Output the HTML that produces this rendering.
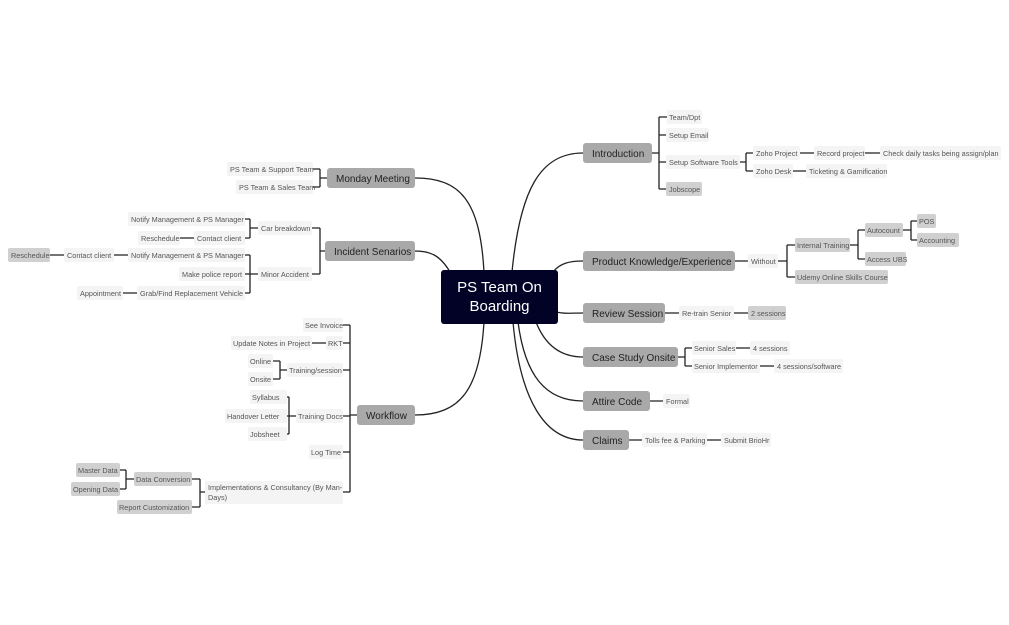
<!DOCTYPE html>
<html><head><meta charset="utf-8"><style>
html,body{margin:0;padding:0;background:#fff;}
svg{display:block;font-family:"Liberation Sans",sans-serif;}
.m rect{fill:#a9a9a9;}
.m text{font-size:10px;fill:#222;}
.s rect{fill:#f4f4f4;}
.s text{font-size:7.3px;fill:#555;}
.d rect{fill:#d0d0d0;}
.d text{font-size:7.3px;fill:#555;}
.l{fill:none;stroke:#222;stroke-width:1.3;}
</style></head><body>
<svg width="1009" height="625" viewBox="0 0 1009 625">
<!-- center curves -->
<path class="l" d="M484 272 C480 200 460 178 415 178"/>
<path class="l" d="M450 272 C440 255 430 251 415 251"/>
<path class="l" d="M484 322 C480 390 460 415 415 415"/>
<path class="l" d="M512 272 C520 190 540 153 583 153"/>
<path class="l" d="M553 272 C560 263 570 261 583 261"/>
<path class="l" d="M556 312 C565 314 570 313 583 313"/>
<path class="l" d="M536 322 C545 345 560 357 583 357"/>
<path class="l" d="M518 322 C525 375 545 401 583 401"/>
<path class="l" d="M513 322 C520 400 545 440 583 440"/>
<rect x="441" y="270" width="117" height="54" rx="3" fill="#020226"/>
<text x="499.5" y="292" font-size="15" fill="#fff" text-anchor="middle">PS Team On</text>
<text x="499.5" y="311" font-size="15" fill="#fff" text-anchor="middle">Boarding</text>

<!-- connectors -->
<g class="l">
<!-- intro -->
<path d="M652 153 H659 M659 117 V189 M659 117 H667 M659 135 H666 M659 162 H666 M659 189 H666"/>
<path d="M740 162 H746 M746 153 V171 M746 153 H753 M746 171 H753 M800 153 H814 M865 153 H880 M793 171 H806"/>
<!-- product -->
<path d="M735 261 H748 M778 261 H787 M787 245 V277 M787 245 H795 M787 277 H795"/>
<path d="M850 245 H858 M858 230 V259 M858 230 H865 M858 259 H865 M903 230 H911 M911 221 V240 M911 221 H917 M911 240 H917"/>
<path d="M665 313 H679 M734 313 H748"/>
<path d="M678 357 H685 M685 348 V366 M685 348 H692 M685 366 H692 M736 348 H750 M760 366 H774"/>
<path d="M650 401 H663 M629 440 H642 M707 440 H721"/>
<!-- left -->
<path d="M327 178 H320 M320 169 V187 M320 169 H313 M320 187 H313"/>
<path d="M325 251 H320 M320 228 V274 M320 228 H312 M320 274 H312"/>
<path d="M258 228 H250 M250 219 V238 M250 219 H245 M250 238 H245 M194 238 H180"/>
<path d="M258 274 H250 M250 255 V293 M250 255 H245 M250 274 H245 M250 293 H245 M128 255 H114 M64 255 H50 M137 293 H123"/>
<path d="M357 415 H350 M350 325 V492 M350 325 H343 M350 343 H343 M350 370 H343 M350 416 H343 M350 452 H343 M350 492 H343"/>
<path d="M326 343 H312 M287 370 H280 M280 361 V379 M280 361 H273 M280 379 H273"/>
<path d="M296 416 H287 M289 397 V434 M289 397 H287 M289 434 H287"/>
<path d="M205 492 H200 M200 479 V507 M200 479 H192 M200 507 H192 M134 479 H126 M126 470 V489 M126 470 H120 M126 489 H120"/>
</g>

<!-- main nodes -->
<g class="m">
<rect x="327" y="168" width="88" height="20" rx="3"/><text x="336" y="182">Monday Meeting</text>
<rect x="325" y="241" width="90" height="20" rx="3"/><text x="334" y="255">Incident Senarios</text>
<rect x="357" y="405" width="58" height="20" rx="3" fill="#999"/><text x="366" y="419">Workflow</text>
<rect x="583" y="143" width="69" height="20" rx="3"/><text x="592" y="157">Introduction</text>
<rect x="583" y="251" width="152" height="20" rx="3"/><text x="592" y="265">Product Knowledge/Experience</text>
<rect x="583" y="303" width="82" height="20" rx="3"/><text x="592" y="317">Review Session</text>
<rect x="583" y="347" width="95" height="20" rx="3"/><text x="592" y="361">Case Study Onsite</text>
<rect x="583" y="391" width="67" height="20" rx="3"/><text x="592" y="405">Attire Code</text>
<rect x="583" y="430" width="46" height="20" rx="3"/><text x="592" y="444">Claims</text>
</g>

<!-- sub nodes light -->
<g class="s">
<rect x="667" y="110" width="35" height="14" rx="2"/><text x="669" y="120">Team/Dpt</text>
<rect x="666" y="128" width="43" height="14" rx="2"/><text x="669" y="138">Setup Email</text>
<rect x="666" y="155" width="74" height="14" rx="2"/><text x="669" y="165">Setup Software Tools</text>
<rect x="753" y="146" width="47" height="14" rx="2"/><text x="756" y="156">Zoho Project</text>
<rect x="753" y="164" width="40" height="14" rx="2"/><text x="756" y="174">Zoho Desk</text>
<rect x="814" y="146" width="51" height="14" rx="2"/><text x="817" y="156">Record project</text>
<rect x="880" y="146" width="121" height="14" rx="2"/><text x="883" y="156">Check daily tasks being assign/plan</text>
<rect x="806" y="164" width="81" height="14" rx="2"/><text x="809" y="174">Ticketing &amp; Gamification</text>
<rect x="748" y="254" width="30" height="14" rx="2"/><text x="751" y="264">Without</text>
<rect x="679" y="306" width="55" height="14" rx="2"/><text x="682" y="316">Re-train Senior</text>
<rect x="692" y="341" width="44" height="14" rx="2"/><text x="694" y="351">Senior Sales</text>
<rect x="750" y="341" width="40" height="14" rx="2"/><text x="753" y="351">4 sessions</text>
<rect x="692" y="359" width="68" height="14" rx="2"/><text x="694" y="369">Senior Implementor</text>
<rect x="774" y="359" width="69" height="14" rx="2"/><text x="777" y="369">4 sessions/software</text>
<rect x="663" y="394" width="27" height="14" rx="2"/><text x="666" y="404">Formal</text>
<rect x="642" y="433" width="65" height="14" rx="2"/><text x="645" y="443">Tolls fee &amp; Parking</text>
<rect x="721" y="433" width="50" height="14" rx="2"/><text x="724" y="443">Submit BrioHr</text>

<rect x="227" y="162" width="86" height="14" rx="2"/><text x="230" y="172">PS Team &amp; Support Team</text>
<rect x="236" y="180" width="77" height="14" rx="2"/><text x="239" y="190">PS Team &amp; Sales Team</text>
<rect x="258" y="221" width="54" height="14" rx="2"/><text x="261" y="231">Car breakdown</text>
<rect x="258" y="267" width="54" height="14" rx="2"/><text x="261" y="277">Minor Accident</text>
<rect x="128" y="212" width="117" height="14" rx="2"/><text x="131" y="222">Notify Management &amp; PS Manager</text>
<rect x="194" y="231" width="51" height="14" rx="2"/><text x="197" y="241">Contact client</text>
<rect x="138" y="231" width="42" height="14" rx="2"/><text x="141" y="241">Reschedule</text>
<rect x="128" y="248" width="117" height="14" rx="2"/><text x="131" y="258">Notify Management &amp; PS Manager</text>
<rect x="179" y="267" width="66" height="14" rx="2"/><text x="182" y="277">Make police report</text>
<rect x="137" y="286" width="108" height="14" rx="2"/><text x="140" y="296">Grab/Find Replacement Vehicle</text>
<rect x="64" y="248" width="50" height="14" rx="2"/><text x="67" y="258">Contact client</text>
<rect x="77" y="286" width="46" height="14" rx="2"/><text x="80" y="296">Appointment</text>

<rect x="303" y="318" width="40" height="14" rx="2"/><text x="305" y="328">See Invoice</text>
<rect x="326" y="336" width="17" height="14" rx="2"/><text x="328" y="346">RKT</text>
<rect x="231" y="336" width="81" height="14" rx="2"/><text x="233" y="346">Update Notes in Project</text>
<rect x="287" y="363" width="56" height="14" rx="2"/><text x="289" y="373">Training/session</text>
<rect x="248" y="354" width="25" height="14" rx="2"/><text x="250" y="364">Online</text>
<rect x="248" y="372" width="25" height="14" rx="2"/><text x="250" y="382">Onsite</text>
<rect x="296" y="409" width="47" height="14" rx="2"/><text x="298" y="419">Training Docs</text>
<rect x="250" y="390" width="37" height="14" rx="2"/><text x="252" y="400">Syllabus</text>
<rect x="225" y="409" width="62" height="14" rx="2"/><text x="227" y="419">Handover Letter</text>
<rect x="248" y="427" width="39" height="14" rx="2"/><text x="250" y="437">Jobsheet</text>
<rect x="309" y="445" width="34" height="14" rx="2"/><text x="311" y="455">Log Time</text>
<rect x="205" y="481" width="138" height="23" rx="2"/><text x="208" y="490">Implementations &amp; Consultancy (By Man-</text><text x="208" y="500">Days)</text>
</g>

<!-- sub nodes dark -->
<g class="d">
<rect x="666" y="182" width="36" height="14" rx="2"/><text x="669" y="192">Jobscope</text>
<rect x="795" y="238" width="55" height="14" rx="2"/><text x="797" y="248">Internal Training</text>
<rect x="795" y="270" width="93" height="14" rx="2"/><text x="797" y="280">Udemy Online Skills Course</text>
<rect x="865" y="223" width="38" height="14" rx="2"/><text x="867" y="233">Autocount</text>
<rect x="865" y="252" width="41" height="14" rx="2"/><text x="867" y="262">Access UBS</text>
<rect x="917" y="214" width="19" height="14" rx="2"/><text x="919" y="224">POS</text>
<rect x="917" y="233" width="42" height="14" rx="2"/><text x="919" y="243">Accounting</text>
<rect x="748" y="306" width="38" height="14" rx="2"/><text x="751" y="316">2 sessions</text>
<rect x="8" y="248" width="42" height="14" rx="2"/><text x="11" y="258">Reschedule</text>
<rect x="134" y="472" width="58" height="14" rx="2"/><text x="136" y="482">Data Conversion</text>
<rect x="117" y="500" width="75" height="14" rx="2"/><text x="119" y="510">Report Customization</text>
<rect x="76" y="463" width="44" height="14" rx="2"/><text x="78" y="473">Master Data</text>
<rect x="71" y="482" width="49" height="14" rx="2"/><text x="73" y="492">Opening Data</text>
</g>
</svg>
</body></html>
